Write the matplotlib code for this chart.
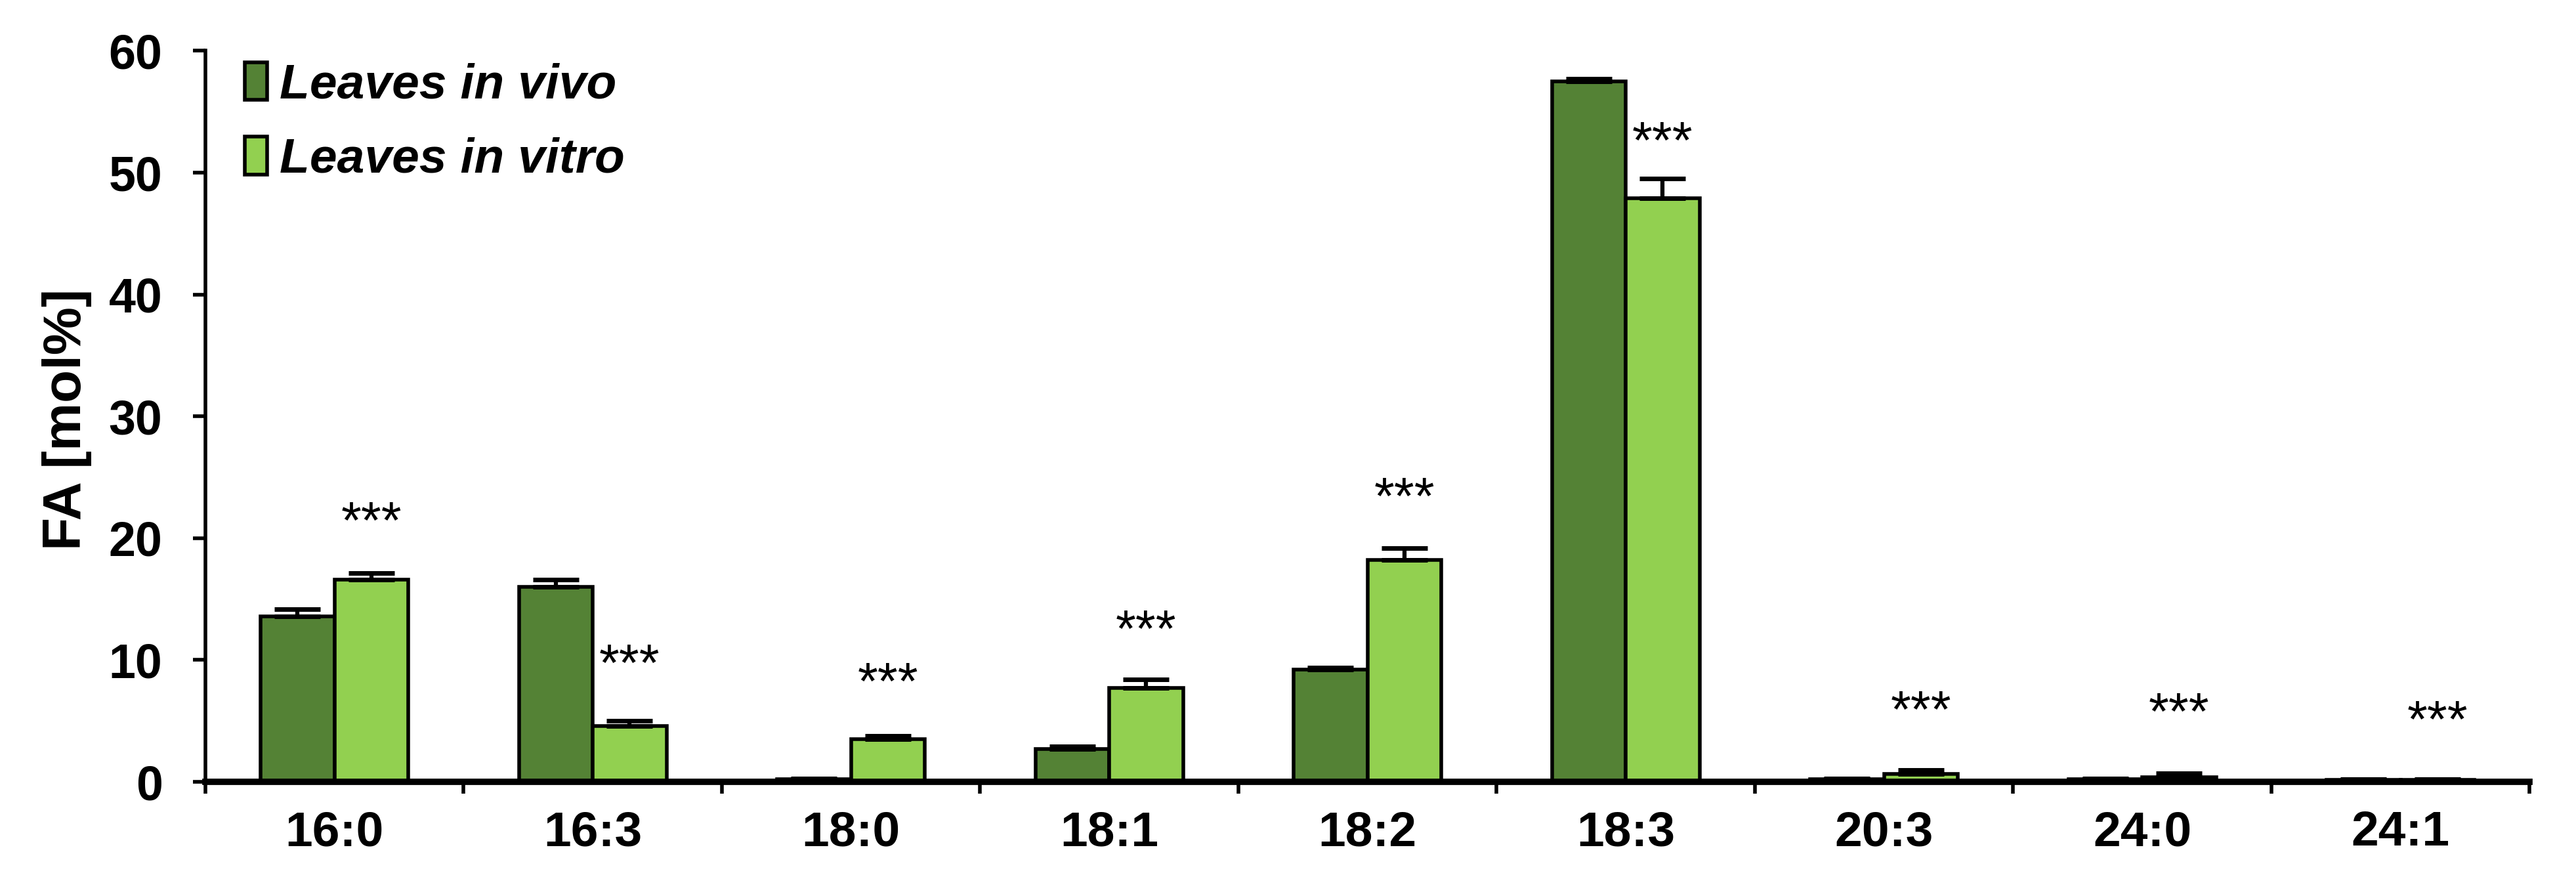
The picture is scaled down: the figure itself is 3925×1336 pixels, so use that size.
import numpy as np
import matplotlib.pyplot as plt

# fatty acid composition of leaves, mol%
categories = ["16:0", "16:3", "18:0", "18:1", "18:2", "18:3", "20:3", "24:0", "24:1"]
in_vivo = [13.6, 16.0, 0.2, 2.7, 9.2, 57.5, 0.2, 0.2, 0.15]
in_vivo_err = [0.6, 0.6, 0.05, 0.2, 0.2, 0.2, 0.05, 0.05, 0.05]
in_vitro = [16.6, 4.6, 3.5, 7.7, 18.2, 47.9, 0.65, 0.4, 0.15]
in_vitro_err = [0.55, 0.4, 0.3, 0.7, 1.0, 1.6, 0.3, 0.3, 0.05]
stars = ["***"] * 9
star_y = [21.1, 9.4, 7.9, 12.2, 23.1, 52.3, 5.6, 5.4, 4.8]

plt.rcParams['font.family'] = ['Liberation Sans', 'DejaVu Sans']

fig = plt.figure(figsize=(39.25, 13.36), dpi=100)
ax = fig.add_axes([0.0797, 0.1085, 0.9023, 0.8335])

x = np.arange(len(categories)) + 0.5
w = 0.286
dark = '#548235'
light = '#92D050'

ax.bar(x - w / 2, in_vivo, w, color=dark, edgecolor='black', linewidth=4, label='Leaves in vivo', zorder=2)
ax.bar(x + w / 2, in_vitro, w, color=light, edgecolor='black', linewidth=4, label='Leaves in vitro', zorder=2)
ax.errorbar(x - w / 2, in_vivo, yerr=[np.zeros(9), in_vivo_err], fmt='none', ecolor='black',
            elinewidth=4.5, capsize=25, capthick=5, zorder=3)
ax.errorbar(x + w / 2, in_vitro, yerr=[np.zeros(9), in_vitro_err], fmt='none', ecolor='black',
            elinewidth=4.5, capsize=25, capthick=5, zorder=3)

for xi, s, yi in zip(x, stars, star_y):
    ax.text(xi + w / 2, yi, s, ha='center', va='center', fontsize=57)

ax.set_xlim(0, len(categories))
ax.set_ylim(0, 60)
ax.set_yticks(range(0, 61, 10))
ax.set_xticks(np.arange(len(categories) + 1))
ax.set_xticklabels([])
ax.set_xticks(x, minor=True)
ax.set_xticklabels(categories, minor=True, fontsize=54, fontweight='bold')
ax.tick_params(axis='x', which='minor', length=0, pad=31)
ax.tick_params(axis='x', which='major', direction='out', length=13, width=4)
ax.tick_params(axis='y', direction='out', length=14, width=4, labelsize=53, pad=33)
for lbl in ax.get_yticklabels():
    lbl.set_fontweight('bold')

ax.spines['top'].set_visible(False)
ax.spines['right'].set_visible(False)
ax.spines['left'].set_linewidth(4)
ax.spines['bottom'].set_linewidth(7)

ax.set_ylabel('FA [mol%]', fontsize=59, fontweight='bold')
ax.yaxis.set_label_coords(-0.0488, 0.496)

leg = ax.legend(loc='upper left', bbox_to_anchor=(-0.002, 1.045), frameon=False,
                prop={'size': 54, 'weight': 'bold', 'style': 'italic'},
                handlelength=0.45, handleheight=0.8, handletextpad=0.25, labelspacing=0.58)
for h in leg.legend_handles:
    h.set_linewidth(4)

fig.savefig('out.png', dpi=100)
